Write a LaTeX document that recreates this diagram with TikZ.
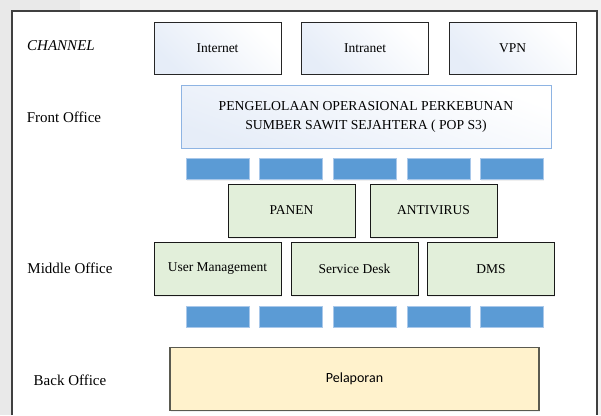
\documentclass[tikz,border=0pt]{standalone}
\usepackage{fontspec}
\setmainfont{Liberation Serif}
\newfontfamily\calib{Carlito}
\usetikzlibrary{shadows}
\definecolor{bgout}{HTML}{F2F2F2}
\definecolor{bgdark}{HTML}{E9E9E9}
\definecolor{framec}{HTML}{404040}
\definecolor{chtint}{HTML}{E6EDF8}
\definecolor{penborder}{HTML}{8EB4E3}
\definecolor{bluebar}{HTML}{5B9BD5}
\definecolor{blueedge}{HTML}{A9C8EA}
\definecolor{greenfill}{HTML}{E2EFDA}
\definecolor{yellowfill}{HTML}{FFF2CC}
\definecolor{yellowedge}{HTML}{5A5A50}
\tikzset{
  lbl/.style={font=\fontsize{15}{18}\selectfont, inner sep=0pt},
  chbox/.style={draw=black!85, line width=0.9pt, left color=chtint, right color=white, shading angle=135,
    minimum width=127pt, minimum height=52pt, inner sep=0pt, font=\fontsize{13.5}{16}\selectfont},
  penbox/.style={draw=penborder, line width=0.9pt, left color=chtint, right color=white, shading angle=160,
    minimum width=370pt, minimum height=63pt, inner sep=0pt, align=center,
    font=\fontsize{13.7}{19}\selectfont},
  bar/.style={draw=blueedge, line width=0.6pt, fill=bluebar, minimum width=63pt, minimum height=21pt, inner sep=0pt,
    drop shadow={opacity=0.12, shadow xshift=0.8pt, shadow yshift=-1.2pt}},
  gbox/.style={draw=black!90, line width=0.9pt, fill=greenfill, minimum width=127pt, minimum height=53pt, inner sep=0pt,
    font=\fontsize{13.5}{16}\selectfont,
    drop shadow={opacity=0.12, shadow xshift=0.8pt, shadow yshift=-1.5pt}},
  ybox/.style={draw=yellowedge, line width=1.1pt, fill=yellowfill, minimum width=369pt, minimum height=63.5pt, inner sep=0pt,
    font=\calib\fontsize{14}{17}\selectfont,
    drop shadow={opacity=0.12, shadow xshift=0.8pt, shadow yshift=-1.5pt}}
}
\begin{document}
\begin{tikzpicture}[x=1pt,y=-1pt]
\useasboundingbox (0,0) rectangle (601,415);
% background
\fill[bgout] (0,0) rectangle (601,415);
\fill[bgdark] (0,0) rectangle (80,11);
\fill[bgdark] (0,0) rectangle (12,415);
\fill[white] (12,11) rectangle (597,415);
\draw[framec, line width=1.2pt] (12,415) -- (12,11) -- (597,11) -- (597,415);

% row labels
\node[lbl, font=\itshape\fontsize{15}{18}\selectfont] (channel) at (61,46) {CHANNEL};
\node[lbl] (front) at (64,117) {Front Office};
\node[lbl] (middle) at (70,268) {Middle Office};
\node[lbl] (back) at (70,380) {Back Office};

% channel boxes
\node[chbox] (internet) at (217.5,48) {Internet};
\node[chbox] (intranet) at (365,48) {Intranet};
\node[chbox] (vpn) at (512.5,48) {VPN};

% front office
\node[penbox] (pop) at (366,116.5) {PENGELOLAAN OPERASIONAL PERKEBUNAN\\SUMBER SAWIT SEJAHTERA ( POP S3)};

% blue bars row 1
\node[bar] (b11) at (217.5,169) {};
\node[bar] (b12) at (290.5,169) {};
\node[bar] (b13) at (364.5,169) {};
\node[bar] (b14) at (438.5,169) {};
\node[bar] (b15) at (511.5,169) {};

% middle office
\node[gbox] (panen) at (291.5,210.5) {PANEN};
\node[gbox] (antivirus) at (433.5,210.5) {ANTIVIRUS};
\node[gbox] (usermgmt) at (217.5,269) {User Management};
\node[gbox] (servicedesk) at (354.5,269) {Service Desk};
\node[gbox] (dms) at (491,269) {DMS};

% blue bars row 2
\node[bar] (b21) at (217.5,316.5) {};
\node[bar] (b22) at (290.5,316.5) {};
\node[bar] (b23) at (364.5,316.5) {};
\node[bar] (b24) at (438.5,316.5) {};
\node[bar] (b25) at (511.5,316.5) {};

% back office
\node[ybox] (pelaporan) at (354.5,379) {Pelaporan};
\end{tikzpicture}
\end{document}
